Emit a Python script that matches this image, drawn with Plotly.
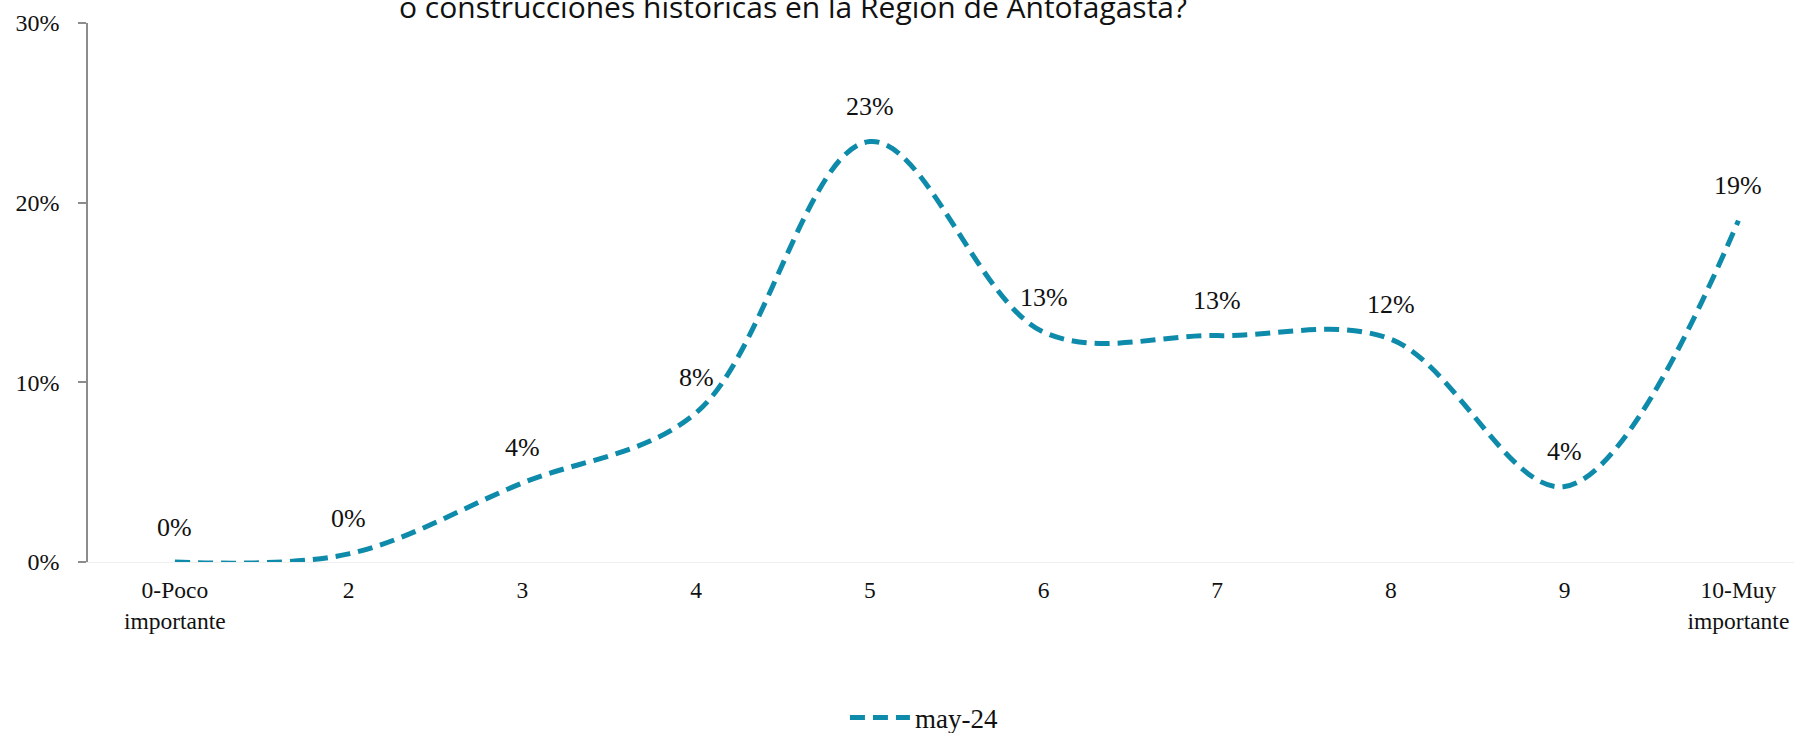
import plotly.graph_objects as go

categories = ["0-Poco<br>importante", "2", "3", "4", "5", "6", "7", "8", "9", "10-Muy<br>importante"]
series_name = "may-24"
values = [0.0, 0.0045, 0.044, 0.083, 0.234, 0.128, 0.126, 0.124, 0.042, 0.190]
y_ticks = [0.0, 0.10, 0.20, 0.30]
y_tick_labels = ["0%", "10%", "20%", "30%"]
title_text = "o construcciones históricas en la Región de Antofagasta?"

W, H = 1794, 733
L, T, B = 88, 23, 171
line_color = "#0E8BAA"
serif = "Liberation Serif, Times New Roman, serif"

xs = list(range(len(categories)))

fig = go.Figure()
fig.add_trace(go.Scatter(
    x=xs, y=values, mode="lines", name=series_name,
    line=dict(color=line_color, width=5, dash="15px,8px", shape="spline", smoothing=1.0),
    hoverinfo="skip",
))

for x, v in zip(xs, values):
    fig.add_annotation(x=x, y=v, text=f"{round(v*100):.0f}%", showarrow=False,
                       yshift=35, font=dict(family=serif, size=26, color="#111"))

fig.update_layout(
    width=W, height=H,
    margin=dict(l=L, r=0, t=T, b=B, pad=0, autoexpand=False),
    paper_bgcolor="white", plot_bgcolor="white",
    title=dict(text=title_text, xref="container", yref="container", x=793 / W, xanchor="center",
               y=1 - 18 / H, yanchor="bottom", automargin=False,
               font=dict(family="Open Sans, sans-serif", size=30, color="#111")),
    showlegend=True,
    legend=dict(orientation="h", x=0.49, xanchor="center", yref="paper", y=-156 / 539,
                yanchor="middle", font=dict(family=serif, size=27, color="#111"),
                itemwidth=60),
    xaxis=dict(range=[-0.5, 9.32], tickmode="array", tickvals=xs, ticktext=categories,
               automargin=False,
               showgrid=False, zeroline=False, showline=True, linecolor="#EFEFEF", linewidth=1,
               ticks="", ticklabelstandoff=7,
               tickfont=dict(family=serif, size=23.5, color="#111")),
    yaxis=dict(range=[0, 0.30], tickmode="array", tickvals=y_ticks, ticktext=y_tick_labels,
               automargin=False,
               showgrid=False, zeroline=False, showline=True, linecolor="#8C8C8C", linewidth=1.5,
               ticks="outside", ticklen=8, tickcolor="#8C8C8C", tickwidth=1.5,
               ticklabelstandoff=14,
               tickfont=dict(family=serif, size=24, color="#111")),
)

fig.write_html("out.html", config={"displayModeBar": False},
               post_script="document.body.style.margin='0';")
